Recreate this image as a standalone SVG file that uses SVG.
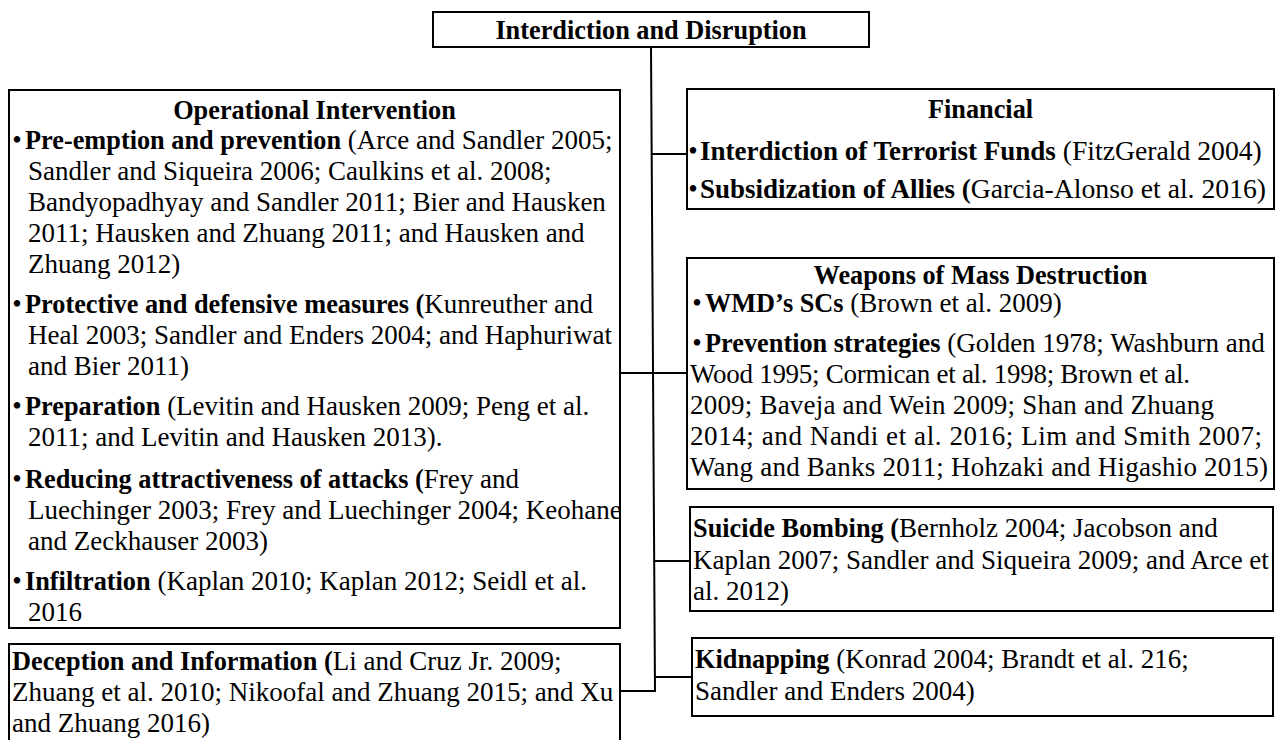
<svg xmlns="http://www.w3.org/2000/svg" width="1280" height="740" viewBox="0 0 1280 740">
<style>
.box{fill:#fff;stroke:#000;stroke-width:2}
.conn{fill:none;stroke:#000;stroke-width:2}
text{font-family:"Liberation Serif","Times New Roman",serif;font-size:27px;fill:#000}
.b{font-weight:bold;font-size:26.3px}
.c{text-anchor:middle}
.f{font-size:27.7px}
.f .b{font-size:27px}
</style>
<rect width="1280" height="740" fill="#fff"/>
<g id="connectors">
<path class="conn" d="M651 47 L655 691 L620 691"/>
<path class="conn" d="M651 154 H687"/>
<path class="conn" d="M620 373 H687"/>
<path class="conn" d="M654 561 H690"/>
<path class="conn" d="M655 677 H692"/>
</g>
<g id="root">
<rect class="box" x="433" y="12" width="436" height="35"/>
<text class="c" x="651" y="39"><tspan class="b">Interdiction and Disruption</tspan></text>
</g>
<g id="operational">
<rect class="box" x="9" y="90" width="611" height="538"/>
<text class="c" x="314.5" y="119"><tspan class="b">Operational Intervention</tspan></text>
<text x="17" y="149" class="c">•</text>
<text x="25" y="149"><tspan class="b">Pre-emption and prevention</tspan> (Arce and Sandler 2005;</text>
<text x="28" y="180">Sandler and Siqueira 2006; Caulkins et al. 2008;</text>
<text x="28" y="211">Bandyopadhyay and Sandler 2011; Bier and Hausken</text>
<text x="28" y="242">2011; Hausken and Zhuang 2011; and Hausken and</text>
<text x="28" y="273">Zhuang 2012)</text>
<text x="17" y="313" class="c">•</text>
<text x="25" y="313"><tspan class="b">Protective and defensive measures (</tspan>Kunreuther and</text>
<text x="28" y="344">Heal 2003; Sandler and Enders 2004; and Haphuriwat</text>
<text x="28" y="375">and Bier 2011)</text>
<text x="17" y="415" class="c">•</text>
<text x="25" y="415"><tspan class="b">Preparation</tspan> (Levitin and Hausken 2009; Peng et al.</text>
<text x="28" y="446">2011; and Levitin and Hausken 2013).</text>
<text x="17" y="488" class="c">•</text>
<text x="25" y="488"><tspan class="b">Reducing attractiveness of attacks (</tspan>Frey and</text>
<text x="28" y="519">Luechinger 2003; Frey and Luechinger 2004; Keohane</text>
<text x="28" y="550">and Zeckhauser 2003)</text>
<text x="17" y="590" class="c">•</text>
<text x="25" y="590"><tspan class="b">Infiltration</tspan> (Kaplan 2010; Kaplan 2012; Seidl et al.</text>
<text x="28" y="621">2016</text>
</g>
<g id="deception">
<rect class="box" x="9" y="644" width="611" height="110"/>
<text x="12" y="670"><tspan class="b">Deception and Information (</tspan>Li and Cruz Jr. 2009;</text>
<text x="12" y="701">Zhuang et al. 2010; Nikoofal and Zhuang 2015; and Xu</text>
<text x="12" y="732">and Zhuang 2016)</text>
</g>
<g id="financial">
<rect class="box" x="687" y="89" width="587" height="120"/>
<text class="c" x="980.5" y="118"><tspan class="b">Financial</tspan></text>
<text x="693" y="160" class="c">•</text>
<text x="700" y="160" class="f"><tspan class="b">Interdiction of Terrorist Funds</tspan> (FitzGerald 2004)</text>
<text x="693" y="198" class="c">•</text>
<text x="700" y="198" class="f"><tspan class="b">Subsidization of Allies (</tspan>Garcia-Alonso et al. 2016)</text>
</g>
<g id="wmd">
<rect class="box" x="687" y="258" width="587" height="231"/>
<text class="c" x="980.5" y="284"><tspan class="b">Weapons of Mass Destruction</tspan></text>
<text x="697" y="312" class="c">•</text>
<text x="705" y="312"><tspan class="b">WMD’s SCs</tspan> (Brown et al. 2009)</text>
<text x="697" y="352" class="c">•</text>
<text x="705" y="352"><tspan class="b">Prevention strategies</tspan> (Golden 1978; Washburn and</text>
<text x="690" y="383" textLength="500">Wood 1995; Cormican et al. 1998; Brown et al.</text>
<text x="690" y="414" textLength="524">2009; Baveja and Wein 2009; Shan and Zhuang</text>
<text x="690" y="445" textLength="572">2014; and Nandi et al. 2016; Lim and Smith 2007;</text>
<text x="690" y="476" textLength="578">Wang and Banks 2011; Hohzaki and Higashio 2015)</text>
</g>
<g id="suicide">
<rect class="box" x="690" y="507" width="583" height="104"/>
<text x="693" y="537"><tspan class="b">Suicide Bombing (</tspan>Bernholz 2004; Jacobson and</text>
<text x="693" y="569">Kaplan 2007; Sandler and Siqueira 2009; and Arce et</text>
<text x="693" y="600">al. 2012)</text>
</g>
<g id="kidnapping">
<rect class="box" x="692" y="638" width="581" height="78"/>
<text x="695" y="668"><tspan class="b">Kidnapping</tspan> (Konrad 2004; Brandt et al. 216;</text>
<text x="695" y="700">Sandler and Enders 2004)</text>
</g>
</svg>
